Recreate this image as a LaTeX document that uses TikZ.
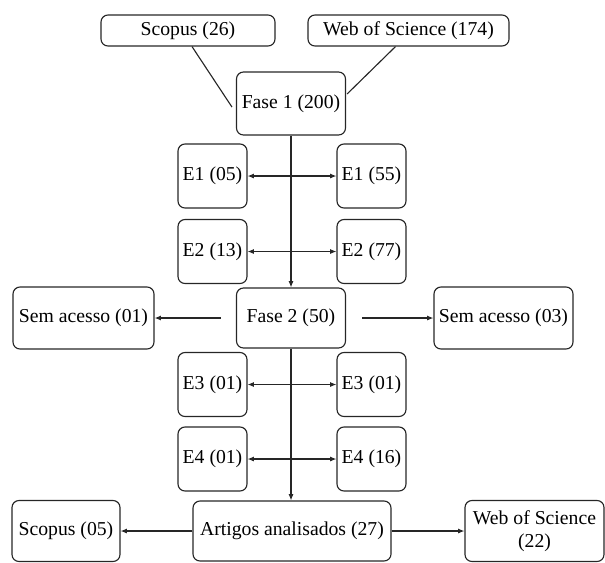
\documentclass[tikz,border=0pt]{standalone}
\usepackage{fontspec}
\setmainfont{Liberation Serif}
\usepackage{tikz}
\usetikzlibrary{calc}
\usetikzlibrary{arrows.meta}
\colorlet{Linecol}{black!85}
\def\ebw{1.725cm}
\def\ebh{1.6cm}

\begin{document}
\begin{tikzpicture}[x=0.025cm, y=-0.025cm,
    >={Latex[length=4.5pt, width=3.6pt]},
    box/.style={draw=Linecol, line width=0.8pt, rounded corners=5pt, align=center,
      inner sep=2pt, font=\fontsize{14}{16}\selectfont},
    ebox/.style={box, minimum width=\ebw, minimum height=\ebh},
    link/.style={line width=0.8pt, Linecol}]
  \useasboundingbox (0,0) rectangle (605,562);

  \node[box, minimum width=4.35cm, minimum height=0.775cm] (scopusA) at (188,30.5) {Scopus (26)};
  \node[box, minimum width=5.025cm, minimum height=0.775cm] (wosA) at (408.5,30.5) {Web of Science (174)};
  \node[box, minimum width=2.725cm, minimum height=1.575cm] (faseA) at (291,103.5) {Fase 1 (200)};

  \node[ebox] (eAl) at (212.5,176) {E1 (05)};
  \node[ebox] (eAr) at (371.5,176) {E1 (55)};
  \node[ebox] (eBl) at (212.5,251.5) {E2 (13)};
  \node[ebox] (eBr) at (371.5,251.5) {E2 (77)};

  \node[box, minimum width=2.725cm, minimum height=1.5cm] (faseB) at (291,318) {Fase 2 (50)};
  \node[box, minimum width=3.525cm, minimum height=1.55cm] (semL) at (83.5,318) {Sem acesso (01)};
  \node[box, minimum width=3.475cm, minimum height=1.55cm] (semR) at (503.5,318) {Sem acesso (03)};

  \node[ebox] (eCl) at (212.5,384.5) {E3 (01)};
  \node[ebox] (eCr) at (371.5,384.5) {E3 (01)};
  \node[ebox] (eDl) at (212.5,459) {E4 (01)};
  \node[ebox] (eDr) at (371.5,459) {E4 (16)};

  \node[box, minimum width=4.95cm, minimum height=1.5cm] (artigos) at (292,531) {Artigos analisados (27)};
  \node[box, minimum width=2.7cm, minimum height=1.525cm] (scopusB) at (66,531) {Scopus (05)};
  \node[box, minimum width=3.475cm, minimum height=1.525cm] (wosB) at (534.5,531) {Web of Science\\(22)};

  \draw[link] ($(scopusA.south)+(4,0)$) -- ($(faseA.west)+(-4,3.5)$);
  \draw[link] ($(wosA.south)+(-13,0)$) -- ($(faseA.east)+(1,-9.5)$);

  \draw[link, ->] (faseA.south) -- (faseA.south |- faseB.north);
  \draw[link, ->] (faseB.south) -- (faseB.south |- artigos.north);

  \draw[link, <->] (eAl) -- (eAr);
  \draw[link, <->] (eBl) -- (eBr);
  \draw[link, <->] (eCl) -- (eCr);
  \draw[link, <->] (eDl) -- (eDr);

  \draw[link, ->] ($(faseB.west)+(-15,0)$) -- (semL);
  \draw[link, ->] ($(faseB.east)+(16,0)$) -- (semR);

  \draw[link, ->] (artigos) -- (scopusB);
  \draw[link, ->] (artigos) -- (wosB);
\end{tikzpicture}
\end{document}
